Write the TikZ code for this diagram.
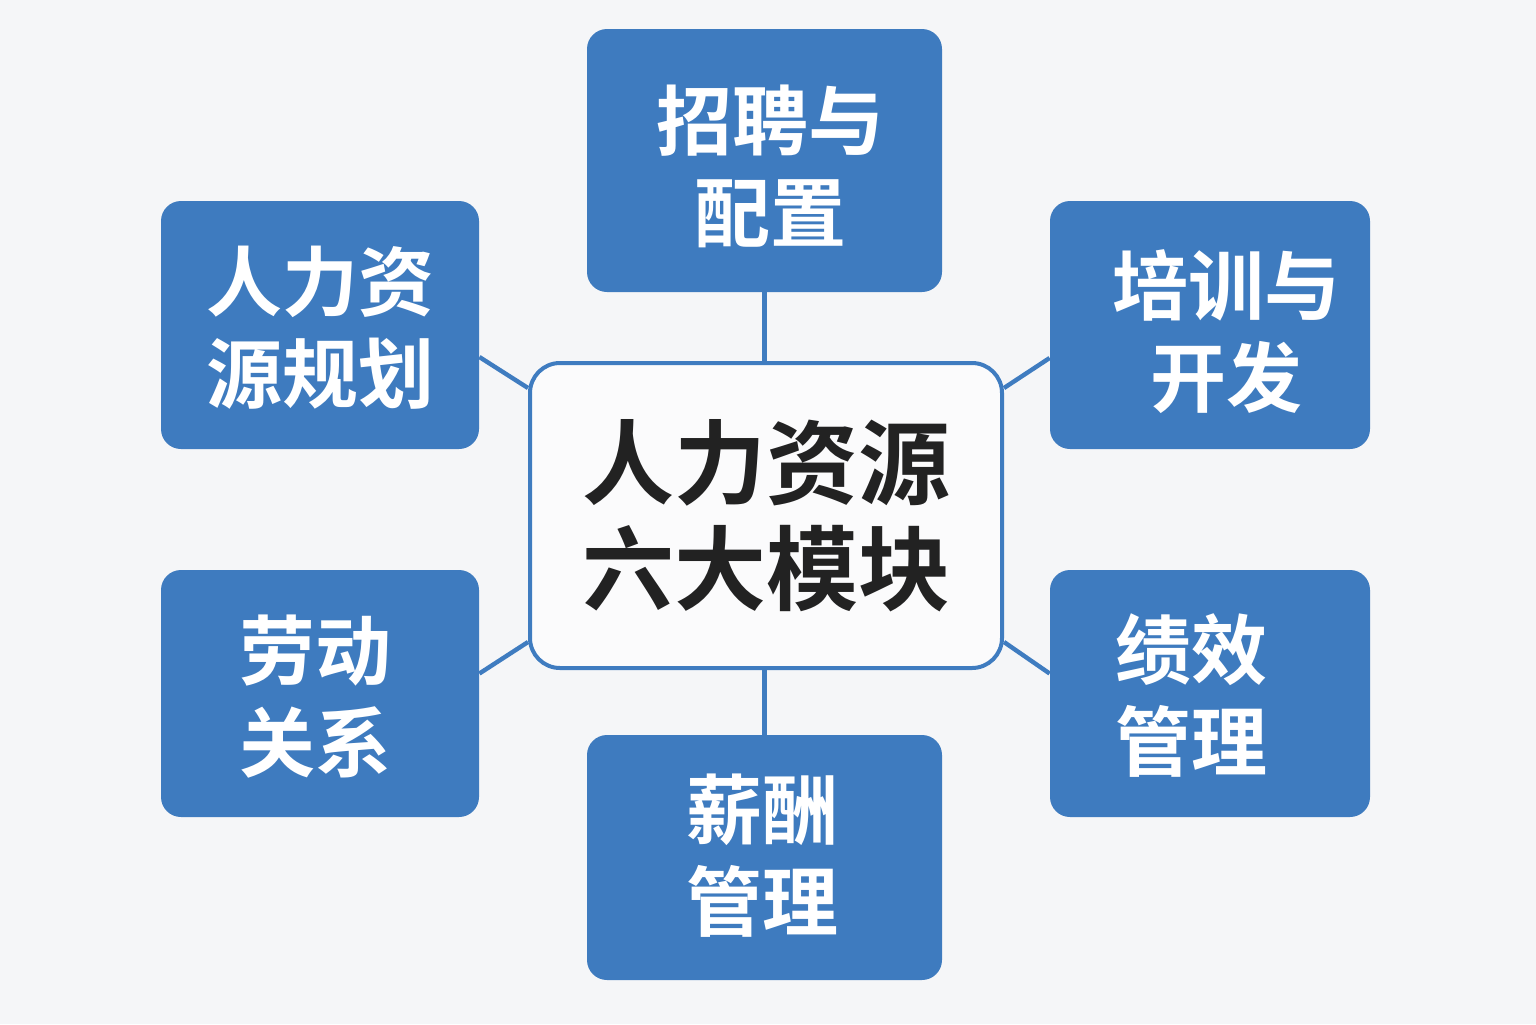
\documentclass[tikz,border=0pt]{standalone}
\usepackage{fontspec}
\newfontfamily\cjk{Noto Sans CJK SC}[BoldFont={Noto Sans CJK SC Bold}]
\definecolor{bg}{HTML}{F5F6F8}
\definecolor{boxblue}{HTML}{3E7BBF}
\definecolor{lineblue}{HTML}{3F7CC0}
\definecolor{ink}{HTML}{222222}
\tikzset{
  module/.style={draw=none, fill=boxblue, rounded corners=10pt, inner sep=0pt},
  modtext/.style={align=center, text=white, inner sep=0pt,
    font=\cjk\bfseries\fontsize{38pt}{46pt}\selectfont},
  hub/.style={draw=lineblue, line width=2pt, fill=white!60!bg, rounded corners=15pt, align=center,
    text=ink, font=\cjk\bfseries\fontsize{46pt}{53pt}\selectfont, inner sep=0pt,
    minimum width=236pt, minimum height=152.5pt},
  link/.style={draw=lineblue, line width=2.2pt}
}
\begin{document}
\begin{tikzpicture}[x=0.5pt,y=-0.5pt]
\fill[bg] (0,0) rectangle (1536,1024);
\useasboundingbox (0,0) rectangle (1536,1024);
\node[hub] (c) at (766,515.5) {人力资源\\六大模块};
\node[module, minimum width=177.5pt, minimum height=131.5pt] (top) at (764.5,160.5) {};
\node[module, minimum width=159pt, minimum height=124pt] (lt) at (320,325) {};
\node[module, minimum width=160pt, minimum height=124pt] (rt) at (1210,325) {};
\node[module, minimum width=159pt, minimum height=123.5pt] (lb) at (320,693.5) {};
\node[module, minimum width=160pt, minimum height=123.5pt] (rb) at (1210,693.5) {};
\node[module, minimum width=177.5pt, minimum height=122.5pt] (bot) at (764.5,857.5) {};
\node[modtext] (top-t) at (770,166) {招聘与\\配置};
\node[modtext] (lt-t) at (320,328) {人力资\\源规划};
\node[modtext] (rt-t) at (1226,332) {培训与\\开发};
\node[modtext] (lb-t) at (315,697) {劳动\\关系};
\node[modtext] (rb-t) at (1191,696) {绩效\\管理};
\node[modtext] (bot-t) at (762,856) {薪酬\\管理};
\draw[link] (top.south) -- (top.south |- c.north);
\draw[link] (bot.north) -- (bot.north |- c.south);
\draw[link] ([yshift=-16pt]lt.east) -- ([yshift=63.75pt]c.west);
\draw[link] ([yshift=-16.5pt]rt.west) -- ([yshift=63.75pt]c.east);
\draw[link] ([yshift=10pt]lb.east) -- ([yshift=-63.25pt]c.west);
\draw[link] ([yshift=10pt]rb.west) -- ([yshift=-63.25pt]c.east);
\end{tikzpicture}
\end{document}
